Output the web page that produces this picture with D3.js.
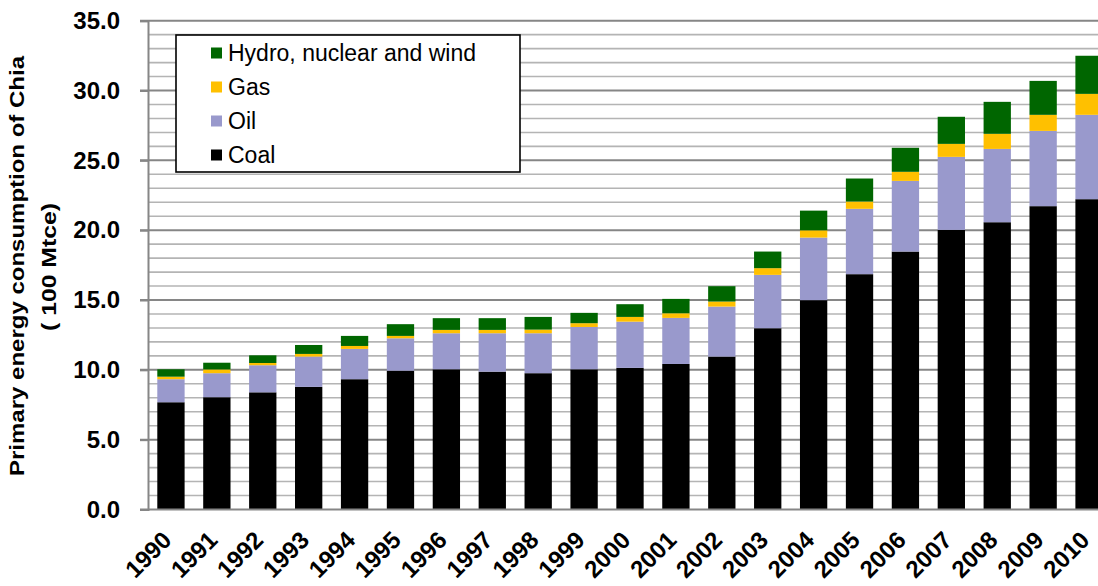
<!DOCTYPE html>
<html>
<head>
<meta charset="utf-8">
<script src="https://cdn.jsdelivr.net/npm/d3@7"></script>
<style>
  html, body { margin: 0; padding: 0; background: #fff; }
  svg { display: block; font-family: "Liberation Sans", Arial, sans-serif; }
</style>
</head>
<body>
<svg id="chart" width="1098" height="586"></svg>
<script>
// ---- data (100 Mtce) ----
const years = ["1990","1991","1992","1993","1994","1995","1996","1997","1998","1999","2000",
               "2001","2002","2003","2004","2005","2006","2007","2008","2009","2010"];
const coal  = [7.68, 8.04, 8.39, 8.78, 9.33, 9.94, 10.04, 9.87, 9.76, 10.04, 10.14,
               10.42, 10.95, 12.98, 14.99, 16.85, 18.47, 20.02, 20.57, 21.72, 22.22];
const oil   = [1.65, 1.72, 1.94, 2.17, 2.17, 2.32, 2.58, 2.75, 2.86, 3.03, 3.31,
               3.30, 3.58, 3.82, 4.48, 4.68, 5.06, 5.23, 5.25, 5.39, 6.04];
const gas   = [0.18, 0.27, 0.16, 0.19, 0.21, 0.17, 0.24, 0.24, 0.26, 0.27, 0.34,
               0.33, 0.36, 0.48, 0.52, 0.52, 0.65, 0.93, 1.08, 1.15, 1.50];
const hydro = [0.53, 0.48, 0.55, 0.64, 0.72, 0.84, 0.84, 0.84, 0.91, 0.74, 0.91,
               1.03, 1.10, 1.19, 1.41, 1.65, 1.72, 1.94, 2.29, 2.43, 2.73];
const seriesNames = ["Coal", "Oil", "Gas", "Hydro, nuclear and wind"];
const seriesKeys  = ["coal", "oil", "gas", "hydro"];
const yTicks = [0, 5, 10, 15, 20, 25, 30, 35];
const yTitle1 = "Primary energy consumption of Chia";
const yTitle2 = "( 100 Mtce)";

const colors = { coal: "#000000", oil: "#9999CC", gas: "#FFC000", hydro: "#006600" };

const rows = years.map((yr, i) => ({ year: yr, coal: coal[i], oil: oil[i], gas: gas[i], hydro: hydro[i] }));

const svg = d3.select("#chart");
const mLeft = 148, mRight = 1112, mTop = 20.7, mBottom = 509.5;

const x = d3.scaleBand().domain(years).range([mLeft, mRight]).paddingInner(0.405).paddingOuter(0.2025);
const y = d3.scaleLinear().domain([0, 35]).range([mBottom, mTop]);

// gridlines
const grid = svg.append("g");
d3.range(1, 36).forEach(v => {
  const major = v % 5 === 0;
  grid.append("line")
    .attr("x1", major ? 140 : mLeft).attr("x2", mRight)
    .attr("y1", y(v)).attr("y2", y(v))
    .attr("stroke", major ? "#868686" : "#b4b4b4")
    .attr("stroke-width", major ? 2 : 1.6);
});

// bars
const stack = d3.stack().keys(seriesKeys)(rows);
svg.append("g").selectAll("g").data(stack).join("g")
  .attr("fill", d => colors[d.key])
  .selectAll("rect").data(d => d).join("rect")
  .attr("x", d => x(d.data.year))
  .attr("width", x.bandwidth())
  .attr("y", d => y(d[1]))
  .attr("height", d => y(d[0]) - y(d[1]));

// axes
const yAxis = svg.append("g").attr("transform", `translate(${mLeft},0)`)
  .call(d3.axisLeft(y).tickValues(yTicks).tickFormat(d3.format(".1f")).tickSize(8).tickPadding(20));
yAxis.select(".domain").attr("stroke", "#868686").attr("stroke-width", 2);
yAxis.selectAll(".tick line").attr("stroke", "#868686").attr("stroke-width", 2);
yAxis.selectAll(".tick text").attr("font-size", 24).attr("font-weight", "bold")
  .attr("fill", "#000").attr("font-family", "Liberation Sans, Arial, sans-serif");

const xAxis = svg.append("g").attr("transform", `translate(0,${mBottom})`)
  .call(d3.axisBottom(x).tickSize(0).tickFormat(d => d));
xAxis.select(".domain").attr("stroke", "#868686").attr("stroke-width", 2)
  .attr("d", `M140,0H${mRight}`);
xAxis.selectAll(".tick text")
  .attr("font-size", 24).attr("font-weight", "bold").attr("fill", "#000")
  .attr("font-family", "Liberation Sans, Arial, sans-serif")
  .attr("text-anchor", "end")
  .attr("dy", null).attr("y", 0)
  .attr("transform", "translate(2,32) rotate(-45)");

// y title
svg.append("text")
  .attr("transform", `translate(24,266) rotate(-90)`)
  .attr("text-anchor", "middle")
  .attr("font-size", 20).attr("font-weight", "bold")
  .attr("textLength", 420).attr("lengthAdjust", "spacingAndGlyphs")
  .text(yTitle1);
svg.append("text")
  .attr("transform", `translate(56,267) rotate(-90)`)
  .attr("text-anchor", "middle")
  .attr("font-size", 20).attr("font-weight", "bold")
  .attr("textLength", 128).attr("lengthAdjust", "spacingAndGlyphs")
  .text(yTitle2);

// legend
const lg = svg.append("g");
lg.append("rect").attr("x", 176).attr("y", 35).attr("width", 344).attr("height", 137)
  .attr("fill", "#fff").attr("stroke", "#000").attr("stroke-width", 1.6);
const legendOrder = ["hydro", "gas", "oil", "coal"];
legendOrder.forEach((k, i) => {
  const cy = 53 + i * 34;
  lg.append("rect").attr("x", 211).attr("y", cy - 5.5).attr("width", 11).attr("height", 11)
    .attr("fill", colors[k]);
  lg.append("text").attr("x", 228).attr("y", cy + 7.5)
    .attr("font-size", 23).attr("fill", "#000")
    .text(seriesNames[seriesKeys.indexOf(k)]);
});
</script>
</body>
</html>
